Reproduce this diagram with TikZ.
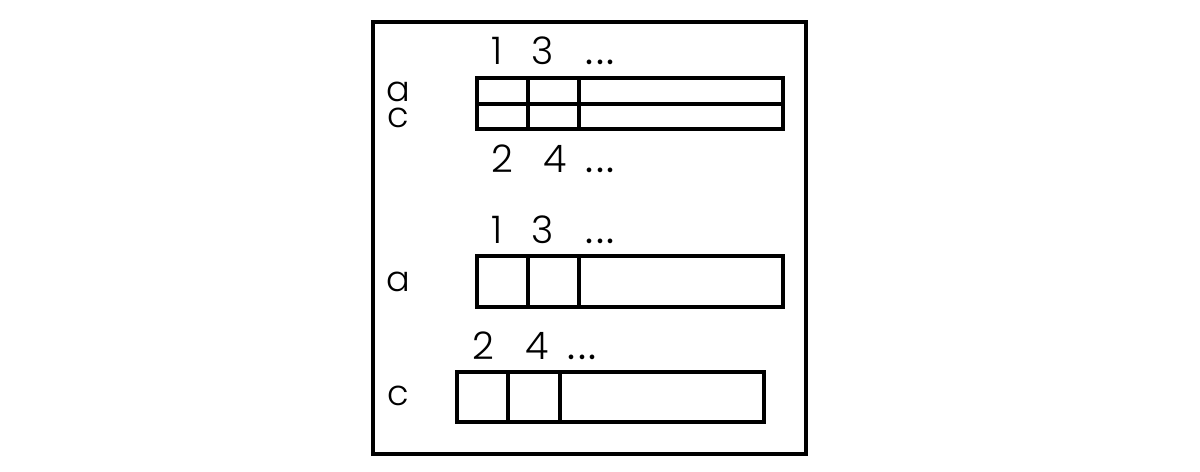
\documentclass[tikz,border=0pt]{standalone}
\usepackage{fontspec}
\setmainfont{Poppins}[UprightFont=* Light]
\newfontfamily\dotsfont{Poppins}
\newcommand{\more}{{\dotsfont .\kern2pt.\kern2pt.}}
\begin{document}
\begin{tikzpicture}[x=0.025cm,y=-0.025cm,line width=0.1cm,
  lbl/.style={anchor=base,inner sep=0pt,font=\fontsize{27}{27}\selectfont},
  row/.style={anchor=base,inner sep=0pt,font=\fontsize{25}{25}\selectfont}]
\useasboundingbox (0,0) rectangle (1200,472);
% frame
\draw (373,22) rectangle (806,454);

% two-row block
\draw (477,78) rectangle (783,129);
\draw (477,104) -- (783,104);
\draw (528,78) -- (528,129);
\draw (579,78) -- (579,129);

% row a
\draw (477,256) rectangle (783,307);
\draw (528,256) -- (528,307);
\draw (579,256) -- (579,307);

% row c
\draw (457,372) rectangle (764,422);
\draw (508,372) -- (508,422);
\draw (560,372) -- (560,422);

% labels
\node [lbl] (n1) at (497,65) {1};
\node [lbl] (n3) at (543,65) {3};
\node [lbl] (d1) at (600,65) {\more};
\node [row] (ra) at (398,102) {a};
\node [row] (rc) at (398,128) {c};
\node [lbl] (n2) at (502,172) {2};
\node [lbl] (n4) at (555,172) {4};
\node [lbl] (d2) at (600,172) {\more};

\node [lbl] (m1) at (497,243) {1};
\node [lbl] (m3) at (543,243) {3};
\node [lbl] (d3) at (600,243) {\more};
\node [row] (sa) at (398,291) {a};

\node [lbl] (m2) at (483,359) {2};
\node [lbl] (m4) at (537,359) {4};
\node [lbl] (d4) at (582,359) {\more};
\node [row] (sc) at (398,405) {c};
\end{tikzpicture}
\end{document}
